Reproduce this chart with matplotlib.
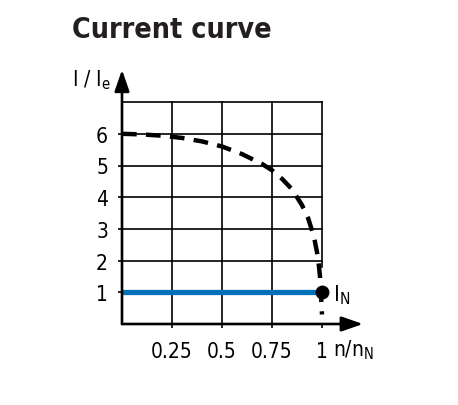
import matplotlib
matplotlib.use("Agg")
import matplotlib.pyplot as plt
from matplotlib import font_manager

# ---- data ----
curve_x = [0.0, 0.1, 0.2, 0.3, 0.4, 0.5, 0.6, 0.7, 0.75, 0.8, 0.85, 0.9, 0.93, 0.96, 0.98, 0.99, 1.0]
curve_y = [6.0, 5.98, 5.94, 5.87, 5.76, 5.6, 5.36, 5.05, 4.85, 4.58, 4.25, 3.75, 3.35, 2.75, 2.1, 1.5, 0.3]
rated_x = [0.0, 1.0]
rated_y = [1.0, 1.0]
point_x = [1.0]
point_y = [1.0]
x_ticks = [0.25, 0.5, 0.75, 1.0]
x_tick_labels = ["0.25", "0.5", "0.75", "1"]
y_ticks = [1, 2, 3, 4, 5, 6]
y_tick_labels = ["1", "2", "3", "4", "5", "6"]

names = {f.name for f in font_manager.fontManager.ttflist}
if "Liberation Sans Narrow" in names:
    FAM = ["Liberation Sans Narrow", "DejaVu Sans"]
    STRETCH = "normal"
else:
    FAM = ["DejaVu Sans"]
    STRETCH = "condensed"
plt.rcParams["font.family"] = FAM
plt.rcParams["font.stretch"] = STRETCH

W, H = 458, 406
fig = plt.figure(figsize=(W / 100, H / 100), dpi=100)
x0px, y0px = 122, 325
xpu, ypu = 200.0, 31.7
xmax, ymax = 1.23, 8.2
ax = fig.add_axes([x0px / W, (H - y0px) / H, xmax * xpu / W, ymax * ypu / H])
ax.set_xlim(0, xmax)
ax.set_ylim(0, ymax)
for s in ax.spines.values():
    s.set_visible(False)
ax.patch.set_alpha(0)

grid_lw = 1.2
for gx in [0.25, 0.5, 0.75]:
    ax.plot([gx, gx], [0, 7], color="black", lw=grid_lw, zorder=1)
for gy in [2, 3, 4, 5, 6, 7]:
    ax.plot([0, 1], [gy, gy], color="black", lw=grid_lw, zorder=1)
ax.plot([1, 1], [1.8, 7], color="black", lw=grid_lw, zorder=1)

axis_lw = 1.9
for tip in [(1.205, 0), (0, 8.02)]:
    ax.annotate("", xy=tip, xytext=(0, 0),
                arrowprops=dict(arrowstyle="-|>,head_length=1.3,head_width=0.45",
                                lw=axis_lw, color="black", shrinkA=0, shrinkB=0,
                                mutation_scale=10), zorder=3)

ax.plot(curve_x, curve_y, color="black", lw=3.2, dashes=(3.3, 2.1), zorder=2,
        dash_capstyle="butt")
ax.plot(rated_x, rated_y, color="#0070BA", lw=3.8, zorder=2, solid_capstyle="butt")
ax.plot(point_x, point_y, "o", color="black", ms=9, zorder=4)
ax.text(1.055, 0.95, r"I$_\mathregular{N}$", fontsize=16, va="center", ha="left")

ax.set_xticks(x_ticks)
ax.set_xticklabels(x_tick_labels)
ax.set_yticks(y_ticks)
ax.set_yticklabels(y_tick_labels)
ax.tick_params(axis="both", direction="out", length=3, width=1.2, labelsize=15, color="black")
ax.tick_params(axis="x", pad=9)
ax.tick_params(axis="y", pad=7)

ax.text(1.055, -25 / ypu, r"n/n$_\mathregular{N}$", fontsize=15, ha="left", va="center")

fig.text(72 / W, 1 - 80 / H, r"I / I$_\mathregular{e}$", fontsize=15, ha="left", va="center")
fig.text(72 / W, 1 - 30 / H, "Current curve", fontsize=20.5, weight="bold", ha="left", va="center",
         color="#231f20")

fig.savefig("out.png", dpi=100)
